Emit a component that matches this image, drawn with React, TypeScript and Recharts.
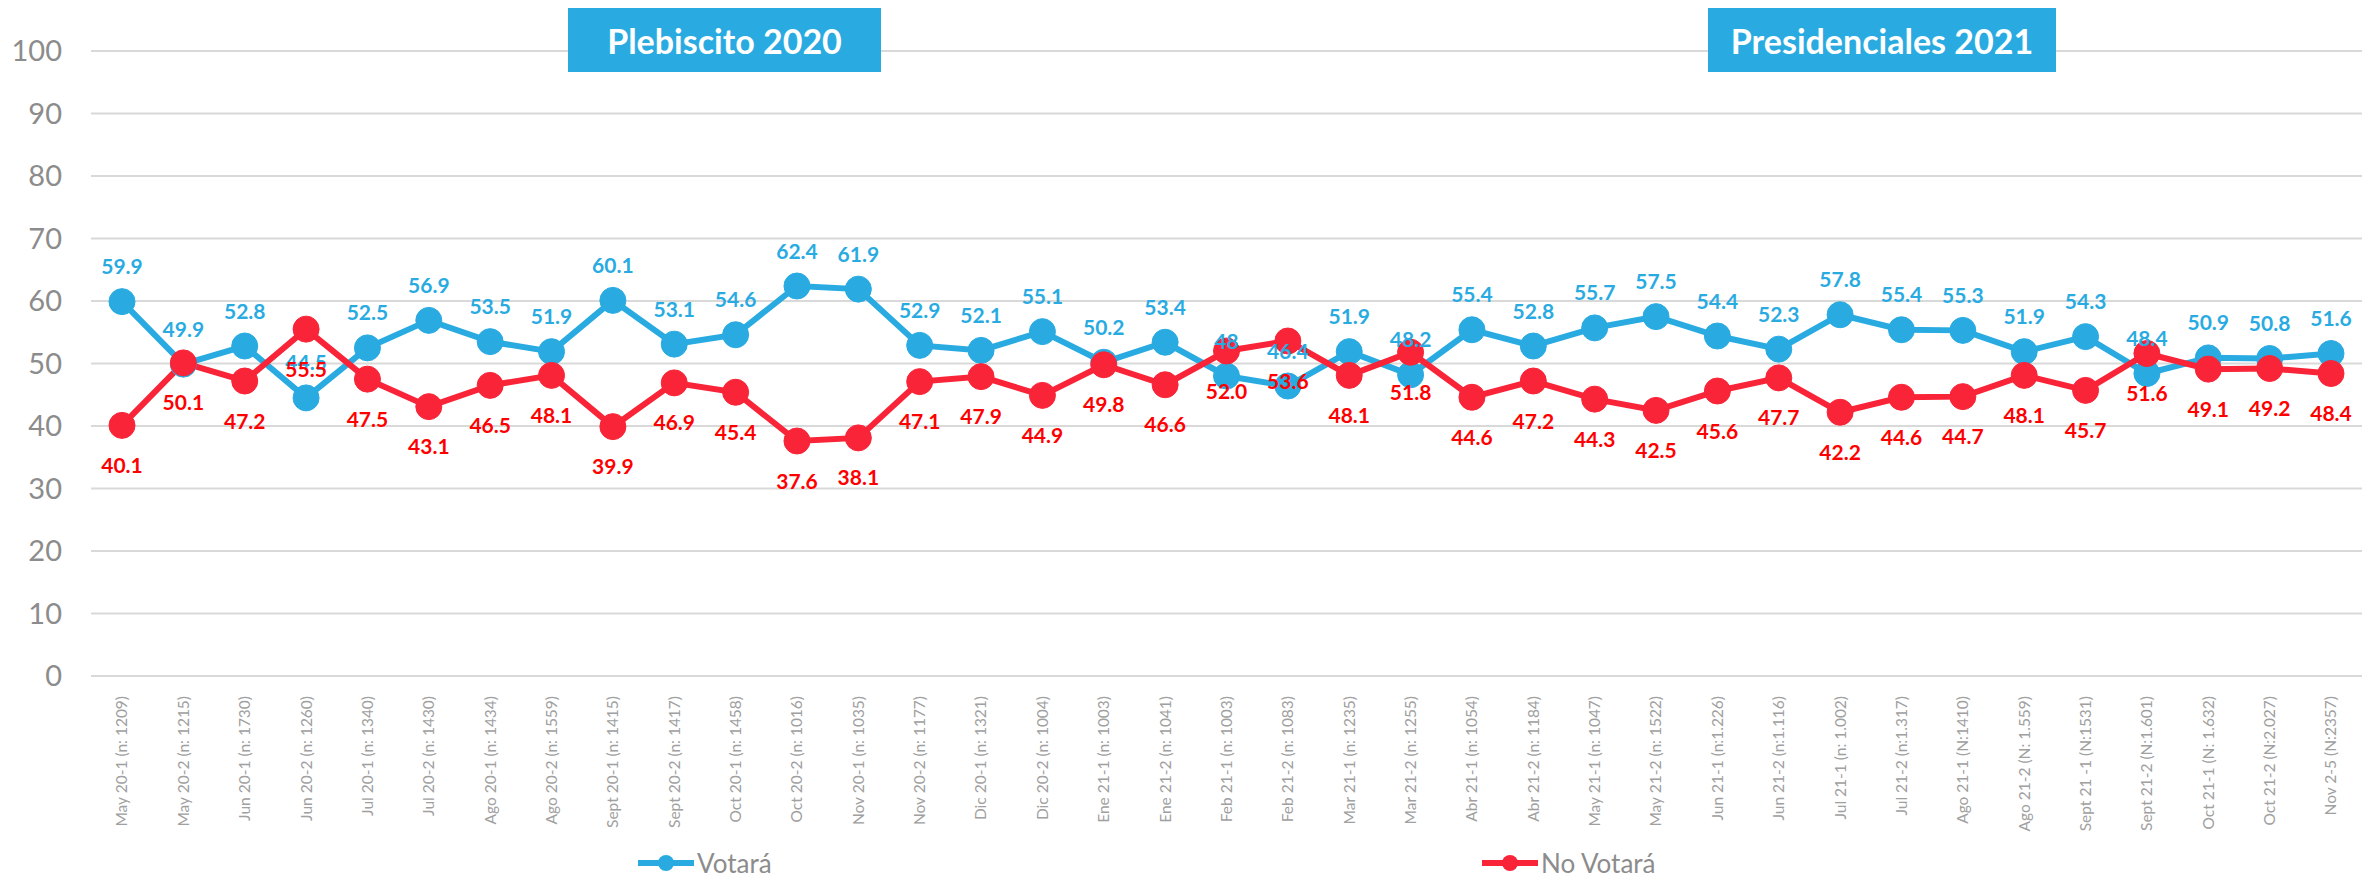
import {
    LineChart,
    Line,
    XAxis,
    YAxis,
    CartesianGrid,
    LabelList,
    Legend,
} from "recharts";

const categories = [
    "May 20-1 (n: 1209)",
    "May 20-2 (n: 1215)",
    "Jun 20-1 (n: 1730)",
    "Jun 20-2 (n: 1260)",
    "Jul 20-1 (n: 1340)",
    "Jul 20-2 (n: 1430)",
    "Ago 20-1 (n: 1434)",
    "Ago 20-2 (n: 1559)",
    "Sept 20-1 (n: 1415)",
    "Sept 20-2 (n: 1417)",
    "Oct 20-1 (n: 1458)",
    "Oct 20-2 (n: 1016)",
    "Nov 20-1 (n: 1035)",
    "Nov 20-2 (n: 1177)",
    "Dic 20-1 (n: 1321)",
    "Dic 20-2 (n: 1004)",
    "Ene 21-1 (n: 1003)",
    "Ene 21-2 (n: 1041)",
    "Feb 21-1 (n: 1003)",
    "Feb 21-2 (n: 1083)",
    "Mar 21-1 (n: 1235)",
    "Mar 21-2 (n: 1255)",
    "Abr 21-1 (n: 1054)",
    "Abr 21-2 (n: 1184)",
    "May 21-1 (n: 1047)",
    "May 21-2 (n: 1522)",
    "Jun 21-1 (n:1.226)",
    "Jun 21-2 (n:1.116)",
    "Jul 21-1 (n: 1.002)",
    "Jul 21-2 (n:1.317)",
    "Ago 21-1 (N:1410)",
    "Ago 21-2 (N: 1.559)",
    "Sept 21 -1 (N:1531)",
    "Sept 21-2 (N:1.601)",
    "Oct 21-1 (N: 1.632)",
    "Oct 21-2 (N:2.027)",
    "Nov 2-5 (N:2357)",
];

const votara = [
    59.9, 49.9, 52.8, 44.5, 52.5, 56.9, 53.5, 51.9, 60.1, 53.1, 54.6, 62.4,
    61.9, 52.9, 52.1, 55.1, 50.2, 53.4, 48, 46.4, 51.9, 48.2, 55.4, 52.8, 55.7,
    57.5, 54.4, 52.3, 57.8, 55.4, 55.3, 51.9, 54.3, 48.4, 50.9, 50.8, 51.6,
];

const noVotara = [
    40.1, 50.1, 47.2, 55.5, 47.5, 43.1, 46.5, 48.1, 39.9, 46.9, 45.4, 37.6,
    38.1, 47.1, 47.9, 44.9, 49.8, 46.6, 52.0, 53.6, 48.1, 51.8, 44.6, 47.2,
    44.3, 42.5, 45.6, 47.7, 42.2, 44.6, 44.7, 48.1, 45.7, 51.6, 49.1, 49.2,
    48.4,
];

const yTicks = [0, 10, 20, 30, 40, 50, 60, 70, 80, 90, 100];

const BLUE = "#29abe2";
const RED = "#f92437";
const RED_TEXT = "#ff0000";
const FONT = "Lato, 'Open Sans', sans-serif";

const data = categories.map((c, i) => ({
    label: c,
    votara: votara[i],
    noVotara: noVotara[i],
}));

const renderBlueLabel = ({ x, y, value }: any) => (
    <text
        x={x}
        y={y - 36}
        fill={BLUE}
        fontSize={21}
        fontWeight={700}
        textAnchor="middle"
        dominantBaseline="central"
    >
        {String(value)}
    </text>
);

const renderRedLabel = ({ x, y, value }: any) => (
    <text
        x={x}
        y={y + 39}
        fill={RED_TEXT}
        fontSize={21}
        fontWeight={700}
        textAnchor="middle"
        dominantBaseline="central"
    >
        {Number(value).toFixed(1)}
    </text>
);

const renderTick = ({ x, y, payload }: any) => (
    <g transform={`translate(${x},${y})`}>
        <text
            transform="rotate(-90)"
            x={-12}
            dy="0.35em"
            textAnchor="end"
            fill="#a0a0a0"
            fontSize={15.5}
        >
            {payload.value}
        </text>
    </g>
);

const legendItems = [
    { name: "Votará", color: BLUE, left: 638 },
    { name: "No Votará", color: RED, left: 1482 },
];

const renderLegend = () => (
    <div style={{ position: "relative", width: 2369, height: 40 }}>
        {legendItems.map((item) => (
            <div
                key={item.name}
                style={{
                    position: "absolute",
                    left: item.left,
                    top: 0,
                    height: 40,
                    display: "flex",
                    alignItems: "center",
                }}
            >
                <svg width={56} height={20}>
                    <line
                        x1={0}
                        y1={10}
                        x2={56}
                        y2={10}
                        stroke={item.color}
                        strokeWidth={6}
                    />
                    <circle cx={28} cy={10} r={8} fill={item.color} />
                </svg>
                <span
                    style={{
                        marginLeft: 3,
                        fontSize: 26,
                        color: "#8c8c8c",
                        fontFamily: FONT,
                    }}
                >
                    {item.name}
                </span>
            </div>
        ))}
    </div>
);

const boxStyle = {
    position: "absolute" as const,
    top: 8,
    height: 64,
    background: BLUE,
    color: "#ffffff",
    fontWeight: 700,
    fontSize: 34,
    display: "flex",
    alignItems: "center",
    justifyContent: "center",
    fontFamily: FONT,
};

export default function App() {
    return (
        <div
            style={{
                position: "absolute",
                left: 0,
                top: 0,
                width: 2369,
                height: 877,
                background: "#ffffff",
                fontFamily: FONT,
            }}
        >
            <LineChart
                width={2369}
                height={877}
                data={data}
                margin={{ top: 51, right: 7, left: 0, bottom: 21 }}
            >
                <CartesianGrid
                    vertical={false}
                    stroke="#d9d9d9"
                    strokeWidth={2}
                />
                <XAxis
                    dataKey="label"
                    interval={0}
                    tick={renderTick}
                    tickLine={false}
                    axisLine={false}
                    height={140}
                    padding={{ left: 31, right: 31 }}
                />
                <YAxis
                    domain={[0, 100]}
                    ticks={yTicks}
                    width={91}
                    tickLine={false}
                    axisLine={false}
                    tickMargin={23}
                    tick={{ fill: "#8c8c8c", fontSize: 29 }}
                />
                <Legend
                    content={renderLegend}
                    wrapperStyle={{ top: 843, left: 0, width: 2369 }}
                />
                <Line
                    type="linear"
                    dataKey="votara"
                    name="Votará"
                    stroke={BLUE}
                    strokeWidth={6}
                    dot={{ r: 13, fill: BLUE, stroke: BLUE, strokeWidth: 1 }}
                    activeDot={false}
                    isAnimationActive={false}
                >
                    <LabelList dataKey="votara" content={renderBlueLabel} />
                </Line>
                <Line
                    type="linear"
                    dataKey="noVotara"
                    name="No Votará"
                    stroke={RED}
                    strokeWidth={6}
                    dot={{ r: 13, fill: RED, stroke: RED, strokeWidth: 1 }}
                    activeDot={false}
                    isAnimationActive={false}
                >
                    <LabelList dataKey="noVotara" content={renderRedLabel} />
                </Line>
            </LineChart>
            <div style={{ ...boxStyle, left: 568, width: 313 }}>
                Plebiscito 2020
            </div>
            <div style={{ ...boxStyle, left: 1708, width: 348 }}>
                Presidenciales 2021
            </div>
        </div>
    );
}
